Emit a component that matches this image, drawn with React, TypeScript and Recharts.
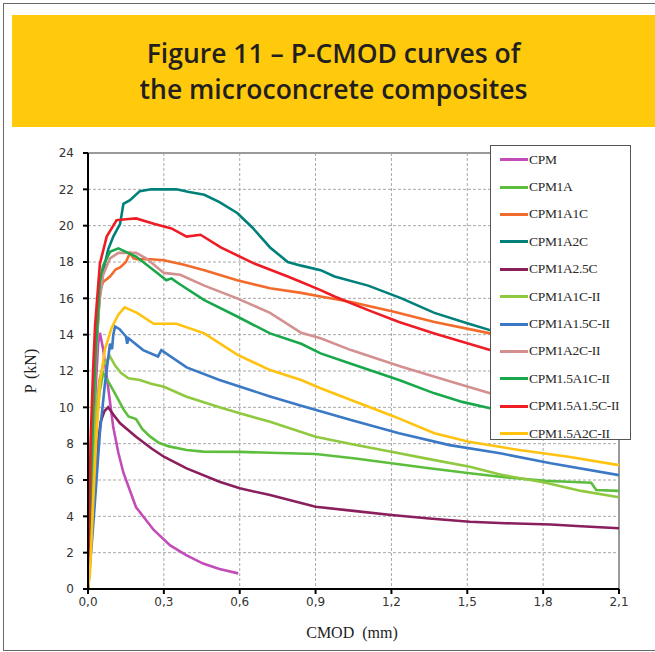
import React from "react";
import {
  LineChart,
  Line,
  XAxis,
  YAxis,
  CartesianGrid,
  Label,
  ReferenceLine,
} from "recharts";

// [CMOD (mm), P (kN)]
const cpm = [
  [0, 0], [0.01, 3.5], [0.02, 7.5], [0.03, 11], [0.04, 13.5], [0.047, 14.1], [0.06, 13.2],
  [0.074, 11.7], [0.1, 8.9], [0.12, 7.5], [0.14, 6.4], [0.19, 4.5], [0.26, 3.25], [0.325, 2.4],
  [0.39, 1.85], [0.455, 1.4], [0.52, 1.1], [0.594, 0.86],
];
const cpm1a = [
  [0, 0], [0.01, 3], [0.02, 6], [0.03, 8.5], [0.045, 10.8], [0.06, 11.9], [0.085, 11.3],
  [0.113, 10.6], [0.14, 9.9], [0.16, 9.5], [0.19, 9.35], [0.215, 8.8], [0.245, 8.4],
  [0.28, 8.05], [0.32, 7.85], [0.39, 7.65], [0.455, 7.56], [0.6, 7.55], [0.72, 7.5],
  [0.9, 7.43], [1.05, 7.2], [1.2, 6.92], [1.35, 6.65], [1.51, 6.37], [1.63, 6.18],
  [1.81, 5.95], [1.9, 5.9], [1.99, 5.85], [2.01, 5.45], [2.1, 5.4],
];
const cpm1a1c = [
  [0, 0], [0.01, 5], [0.02, 9], [0.03, 12.5], [0.047, 16.4], [0.06, 16.9], [0.087, 17.2],
  [0.11, 17.6], [0.127, 17.7], [0.15, 18.0], [0.166, 18.5], [0.18, 18.2], [0.194, 18.15],
  [0.25, 18.15], [0.3, 18.1], [0.38, 17.85], [0.46, 17.55], [0.59, 17.0], [0.72, 16.55],
  [0.843, 16.3], [0.92, 16.1], [1.04, 15.8], [1.21, 15.26], [1.37, 14.7], [1.59, 14.07],
  [1.7, 13.8],
];
const cpm1a2c = [
  [0, 0], [0.01, 5], [0.02, 9.5], [0.03, 13], [0.045, 16], [0.06, 17.5], [0.08, 18.7],
  [0.1, 19.4], [0.127, 20.1], [0.14, 21.2], [0.166, 21.4], [0.205, 21.9], [0.25, 22.0],
  [0.35, 22.0], [0.4, 21.85], [0.46, 21.7], [0.52, 21.3], [0.59, 20.7], [0.65, 19.9],
  [0.72, 18.8], [0.79, 18.0], [0.843, 17.8], [0.92, 17.55], [0.975, 17.2], [1.108, 16.7],
  [1.24, 16.0], [1.37, 15.2], [1.506, 14.6], [1.59, 14.25], [1.7, 13.8],
];
const cpm1a25c = [
  [0, 0], [0.01, 2.5], [0.02, 5], [0.035, 7.5], [0.05, 9.2], [0.065, 9.8], [0.08, 10.0],
  [0.1, 9.6], [0.127, 9.12], [0.19, 8.38], [0.25, 7.75], [0.3, 7.28], [0.39, 6.64],
  [0.52, 5.9], [0.6, 5.54], [0.72, 5.17], [0.9, 4.53], [1.05, 4.3], [1.2, 4.07],
  [1.35, 3.88], [1.51, 3.7], [1.65, 3.62], [1.83, 3.55], [1.95, 3.45], [2.1, 3.34],
];
const cpm1a1cII = [
  [0, 0], [0.01, 3], [0.02, 6.5], [0.03, 9.5], [0.045, 11.5], [0.06, 12.3], [0.087, 12.8],
  [0.107, 12.3], [0.13, 11.9], [0.16, 11.6], [0.205, 11.5], [0.25, 11.3], [0.3, 11.13],
  [0.39, 10.58], [0.52, 10.0], [0.6, 9.67], [0.72, 9.2], [0.9, 8.38], [1.05, 7.95],
  [1.2, 7.56], [1.35, 7.15], [1.51, 6.73], [1.63, 6.3], [1.81, 5.85], [1.95, 5.4], [2.1, 5.05],
];
const cpm1a15cII = [
  [0, 0], [0.015, 2.5], [0.028, 4.9], [0.047, 8.6], [0.067, 11.3], [0.087, 13.5],
  [0.095, 13.2], [0.1, 14.0], [0.107, 14.45], [0.125, 14.3], [0.15, 13.9], [0.155, 13.5],
  [0.16, 13.8], [0.218, 13.15], [0.277, 12.8], [0.29, 13.15], [0.39, 12.2], [0.52, 11.5],
  [0.72, 10.6], [0.84, 10.1], [1.04, 9.3], [1.23, 8.57], [1.43, 7.92], [1.63, 7.47],
  [1.83, 6.92], [2.1, 6.27],
];
const cpm1a2cII = [
  [0, 0], [0.01, 5], [0.02, 9], [0.03, 12.5], [0.045, 15.8], [0.06, 17.3], [0.087, 18.2],
  [0.12, 18.5], [0.19, 18.5], [0.23, 18.2], [0.3, 17.4], [0.365, 17.3], [0.46, 16.7],
  [0.59, 16.0], [0.72, 15.2], [0.843, 14.1], [0.92, 13.8], [1.04, 13.15], [1.24, 12.23],
  [1.44, 11.4], [1.59, 10.77], [1.7, 10.4],
];
const cpm15a1cII = [
  [0, 0], [0.01, 5], [0.02, 9.5], [0.03, 13], [0.047, 17.0], [0.06, 17.8], [0.087, 18.56],
  [0.12, 18.75], [0.19, 18.3], [0.26, 17.55], [0.31, 17.0], [0.33, 17.1], [0.36, 16.8],
  [0.46, 15.9], [0.59, 15.0], [0.72, 14.07], [0.843, 13.5], [0.92, 12.97], [1.04, 12.4],
  [1.23, 11.5], [1.37, 10.77], [1.48, 10.3], [1.59, 9.95], [1.7, 9.6],
];
const cpm15a15cII = [
  [0, 0], [0.005, 4], [0.01, 8], [0.02, 12], [0.028, 14.5], [0.047, 17.9], [0.074, 19.4],
  [0.1, 20.0], [0.113, 20.3], [0.15, 20.35], [0.19, 20.4], [0.26, 20.1], [0.33, 19.85],
  [0.39, 19.4], [0.445, 19.5], [0.525, 18.8], [0.66, 17.9], [0.79, 17.2], [0.843, 16.9],
  [0.92, 16.45], [0.975, 16.1], [1.108, 15.35], [1.23, 14.7], [1.37, 14.07], [1.59, 13.15],
  [1.7, 12.8],
];
const cpm15a2cII = [
  [0, 0], [0.008, 0.9], [0.021, 4.9], [0.034, 8.6], [0.047, 11.3], [0.067, 13.2],
  [0.094, 14.4], [0.12, 15.1], [0.145, 15.5], [0.194, 15.2], [0.26, 14.6], [0.35, 14.6],
  [0.46, 14.07], [0.59, 12.9], [0.72, 12.05], [0.843, 11.5], [0.92, 11.05], [1.04, 10.4],
  [1.21, 9.5], [1.37, 8.57], [1.506, 8.1], [1.705, 7.65], [1.9, 7.28], [2.1, 6.82],
];

const seriesNames = [
  "CPM", "CPM1A", "CPM1A1C", "CPM1A2C", "CPM1A2.5C", "CPM1A1C-II",
  "CPM1A1.5C-II", "CPM1A2C-II", "CPM1.5A1C-II", "CPM1.5A1.5C-II", "CPM1.5A2C-II",
];
const seriesData = [
  cpm, cpm1a, cpm1a1c, cpm1a2c, cpm1a25c, cpm1a1cII,
  cpm1a15cII, cpm1a2cII, cpm15a1cII, cpm15a15cII, cpm15a2cII,
];
const seriesColors = [
  "#C24DB9", "#5DBE3D", "#F36B2B", "#00807A", "#8A1F5D", "#8FC940",
  "#3B78C5", "#D3908E", "#18A84B", "#EE1D25", "#FFC20F",
];

const xTicks = [0, 0.3, 0.6, 0.9, 1.2, 1.5, 1.8, 2.1];
const yTicks = [0, 2, 4, 6, 8, 10, 12, 14, 16, 18, 20, 22, 24];

const toRows = (pts: number[][]) => pts.map(([x, p]) => ({ x, p }));

const tickStyle = { fontSize: 12, fill: "#333", fontFamily: "DejaVu Sans" };
const titleFont = { fontFamily: "Liberation Serif", fontSize: 16, fill: "#222" };

// legend sits over the right end of the plot, so it is drawn outside recharts
function LegendBox() {
  return (
    <div
      style={{
        position: "absolute",
        left: 490,
        top: 145,
        width: 141,
        height: 295,
        background: "#fff",
        border: "1.5px solid #555",
        boxSizing: "border-box",
      }}
    >
      {seriesNames.map((name, i) => (
        <div
          key={name}
          style={{ height: 27.4, display: "flex", alignItems: "center" }}
        >
          <div
            style={{
              marginLeft: 9,
              width: 28,
              height: 3,
              background: seriesColors[i],
            }}
          />
          <span
            style={{
              marginLeft: 1,
              fontFamily: "Liberation Serif",
              fontSize: 13.5,
              letterSpacing: -0.3,
              color: "#2a2a2a",
              whiteSpace: "nowrap",
            }}
          >
            {name}
          </span>
        </div>
      ))}
    </div>
  );
}

export default function App() {
  return (
    <div
      style={{
        position: "absolute",
        left: 0,
        top: 0,
        width: 655,
        height: 652,
        overflow: "hidden",
        background: "#fff",
      }}
    >
      <div
        style={{
          position: "absolute",
          left: 3,
          top: 3,
          width: 700,
          height: 646,
          border: "1px solid #6a6a6a",
        }}
      />
      <LineChart
        width={655}
        height={652}
        margin={{ top: 153, right: 36, bottom: 23, left: 48 }}
        style={{ position: "absolute", left: 0, top: 0 }}
      >
        <CartesianGrid stroke="#a8a8a8" strokeDasharray="3 2" />
        <XAxis
          dataKey="x"
          type="number"
          domain={[0, 2.1]}
          ticks={xTicks}
          allowDataOverflow
          tickFormatter={(v: number) => v.toFixed(1).replace(".", ",")}
          tick={tickStyle}
          axisLine={{ stroke: "#000", strokeWidth: 2 }}
          tickLine={{ stroke: "#000", strokeWidth: 2 }}
          tickSize={5}
          tickMargin={3}
          height={40}
        >
          <Label
            content={() => (
              <text x={352} y={638} textAnchor="middle" style={titleFont} wordSpacing={4}>
                CMOD (mm)
              </text>
            )}
          />
        </XAxis>
        <YAxis
          type="number"
          domain={[0, 24]}
          ticks={yTicks}
          allowDataOverflow
          tick={tickStyle}
          axisLine={{ stroke: "#000", strokeWidth: 2 }}
          tickLine={{ stroke: "#000", strokeWidth: 2 }}
          tickSize={5}
          tickMargin={9}
          width={40}
        >
          <Label
            content={() => (
              <text
                x={36}
                y={371}
                textAnchor="middle"
                transform="rotate(-90 36 371)"
                style={titleFont}
                wordSpacing={2}
              >
                P (kN)
              </text>
            )}
          />
        </YAxis>
        <ReferenceLine y={24} stroke="#9a9a9a" strokeWidth={2} />
        <ReferenceLine x={2.1} stroke="#9a9a9a" strokeWidth={2} />
        {seriesData.map((pts, i) => (
          <Line
            key={seriesNames[i]}
            name={seriesNames[i]}
            data={toRows(pts)}
            dataKey="p"
            type="linear"
            stroke={seriesColors[i]}
            strokeWidth={2.6}
            dot={false}
            isAnimationActive={false}
          />
        ))}
      </LineChart>
      <LegendBox />
      <div
        style={{
          position: "absolute",
          left: 12,
          top: 15,
          width: 643,
          height: 112,
          background: "#FFC90C",
          display: "flex",
          flexDirection: "column",
          alignItems: "center",
          justifyContent: "center",
          fontFamily: "Open Sans",
          fontWeight: 600,
          fontSize: 26.5,
          lineHeight: "36px",
          color: "#231f20",
        }}
      >
        <div>Figure 11 – P-CMOD curves of</div>
        <div>the microconcrete composites</div>
      </div>
    </div>
  );
}
